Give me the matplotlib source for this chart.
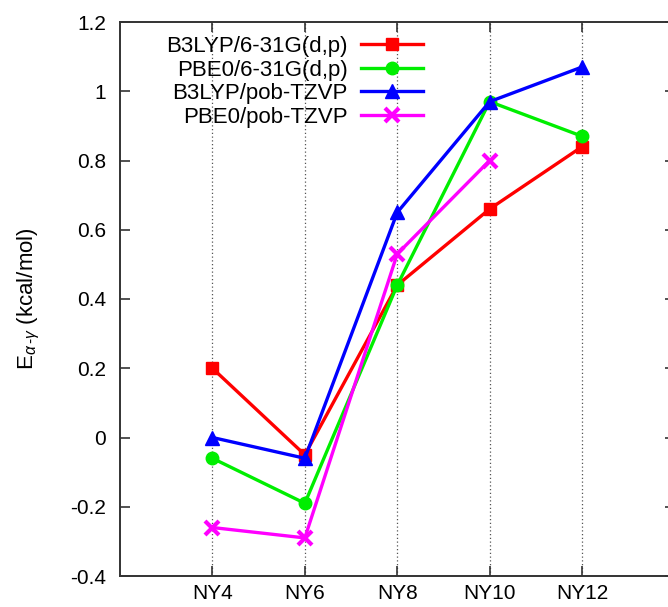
import matplotlib
matplotlib.use("Agg")
import matplotlib.pyplot as plt

plt.rcParams['font.family'] = ['Liberation Sans', 'DejaVu Sans']
plt.rcParams['mathtext.fontset'] = 'custom'
plt.rcParams['mathtext.rm'] = 'Liberation Sans'
plt.rcParams['mathtext.it'] = 'Liberation Sans:italic'

categories = ["NY4", "NY6", "NY8", "NY10", "NY12"]
x_pos = [4, 6, 8, 10, 12]

b3lyp_631 = [0.20, -0.05, 0.44, 0.66, 0.84]
pbe0_631 = [-0.06, -0.19, 0.44, 0.97, 0.87]
b3lyp_tzvp = [0.00, -0.06, 0.65, 0.97, 1.07]
pbe0_tzvp = [-0.26, -0.29, 0.53, 0.80]

series_labels = ["B3LYP/6-31G(d,p)", "PBE0/6-31G(d,p)", "B3LYP/pob-TZVP", "PBE0/pob-TZVP"]
y_ticks = [-0.4, -0.2, 0, 0.2, 0.4, 0.6, 0.8, 1, 1.2]

W, H = 668, 607
fig = plt.figure(figsize=(W / 100, H / 100), dpi=100)
ax = fig.add_axes([120 / W, (H - 576) / H, (674.5 - 120) / W, (576 - 22) / H])

lw = 2.4
ax.plot(x_pos, b3lyp_631, color='#ff0000', lw=lw, marker='s', ms=9, label=series_labels[0], zorder=3)
ax.plot(x_pos, pbe0_631, color='#00ee00', lw=lw, marker='o', ms=9, label=series_labels[1], zorder=3)
ax.plot(x_pos, b3lyp_tzvp, color='#0000ff', lw=lw, marker='^', ms=10, label=series_labels[2], zorder=4)
ax.plot(x_pos[:len(pbe0_tzvp)], pbe0_tzvp, color='#ff00ff', lw=lw, marker='x', ms=10, mew=3,
        label=series_labels[3], zorder=3)

ax.set_xlim(2, 14)
ax.set_ylim(-0.4, 1.2)
ax.set_xticks(x_pos)
ax.set_xticklabels(categories)
ax.set_yticks(y_ticks)
ax.set_yticklabels(["-0.4", "-0.2", "0", "0.2", "0.4", "0.6", "0.8", "1", "1.2"])
ax.tick_params(direction='in', length=7, width=1.2, labelsize=15, top=True, right=True,
               color='#333333')
ax.tick_params(axis='y', pad=10)
ax.tick_params(axis='x', pad=6)
ax.xaxis.grid(True, linestyle=(0, (1, 2)), color='#555555', lw=0.9)
for s in ax.spines.values():
    s.set_linewidth(1.4)
    s.set_color('#333333')

ax.set_ylabel(r'E$_{\alpha\,\text{-}\gamma}$ (kcal/mol)', fontsize=16)
ax.yaxis.set_label_coords(-0.14, 0.5)

leg = ax.legend(loc='upper left', bbox_to_anchor=(0.075, 0.983), frameon=False, markerfirst=False,
                fontsize=16, handlelength=2.8, handletextpad=0.6, labelspacing=0.12,
                borderaxespad=0.0, borderpad=0.2)

fig.savefig("out.png", dpi=100)
